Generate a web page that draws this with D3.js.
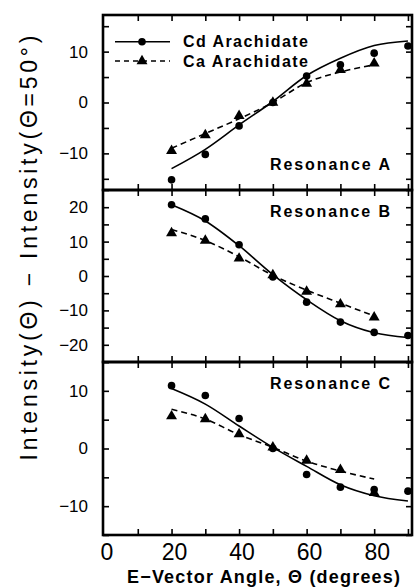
<!DOCTYPE html>
<html>
<head>
<meta charset="utf-8">
<script src="https://cdn.jsdelivr.net/npm/d3@7"></script>
<style>
  body { margin: 0; background: #fff; }
  svg { display: block; font-family: "Liberation Sans", Arial, Helvetica, sans-serif; }
</style>
</head>
<body>
<div id="chart"></div>
<script>
'use strict';

// angles (degrees) where points were measured
const cdAngles = [20, 30, 40, 50, 60, 70, 80, 90];
const caAngles = [20, 30, 40, 50, 60, 70, 80];

// Resonance A
const cdPointsA = [-15.2, -10.2, -4.6, 0.0, 5.2, 7.4, 9.7, 11.1];
const caPointsA = [-9.5, -6.4, -2.6, 0.0, 3.7, 6.4, 7.7];
const cdFitA = [-13.0, -9.2, -4.4, 0.2, 5.3, 8.7, 11.2, 12.1];
const caFitA = [-9.0, -6.1, -3.2, 0.0, 3.9, 6.0, 7.4];

// Resonance B
const cdPointsB = [20.7, 16.6, 9.1, -0.3, -7.6, -13.4, -16.4, -17.3];
const caPointsB = [12.5, 10.3, 5.1, 0.3, -4.5, -8.2, -12.0];
const cdFitB = [20.7, 16.0, 8.8, 0.4, -6.9, -13.0, -16.5, -17.9];
const caFitB = [13.5, 10.3, 5.6, 0.2, -4.1, -7.9, -11.6];

// Resonance C
const cdPointsC = [10.9, 9.2, 5.2, 0.0, -4.5, -6.7, -7.1, -7.4];
const caPointsC = [5.6, 5.1, 2.5, 0.2, -2.1, -3.7, -7.7];
const cdFitC = [10.4, 7.7, 3.9, 0.2, -3.1, -6.3, -8.2, -9.1];
const caFitC = [6.8, 5.1, 2.4, 0.2, -2.2, -3.9, -5.3];

const panelNames = ["Resonance A", "Resonance B", "Resonance C"];
const panelDomains = [[-17.2, 17.2], [-25, 25], [-15, 15]];
const xTickLabels = [0, 20, 40, 60, 80];

const legendNames = ["Cd Arachidate", "Ca Arachidate"];
const yTitle = "Intensity(\u0398) \u2212 Intensity(\u0398=50\u00b0)";
const xTitle = "E\u2212Vector Angle, \u0398 (degrees)";

const width = 415, height = 588;
const frame = {left: 103, right: 412};
const panelEdges = [15, 190, 362, 535];

const svg = d3.select("#chart").append("svg")
  .attr("width", width)
  .attr("height", height);

const x = d3.scaleLinear().domain([0, 91.2]).range([frame.left + 1, frame.right]);

const panels = [
  {name: panelNames[0], domain: panelDomains[0], cd: cdPointsA, ca: caPointsA, cdFit: cdFitA, caFit: caFitA},
  {name: panelNames[1], domain: panelDomains[1], cd: cdPointsB, ca: caPointsB, cdFit: cdFitB, caFit: caFitB},
  {name: panelNames[2], domain: panelDomains[2], cd: cdPointsC, ca: caPointsC, cdFit: cdFitC, caFit: caFitC}
];

const triangle = d3.symbol().type(d3.symbolTriangle).size(52);

panels.forEach(function(p, i){
  let top = panelEdges[i], bottom = panelEdges[i + 1];
  let y = d3.scaleLinear().domain(p.domain).range([bottom, top]);
  let g = svg.append("g").attr("class", "panel");

  //minor ticks every 5, labels every 10
  let yTicks = d3.range(Math.ceil(p.domain[0] / 5) * 5, p.domain[1] + 0.01, 5);
  let yFmt = d => (d % 10 === 0 ? d3.format("d")(d) : "");

  let left = g.append("g")
    .attr("transform", `translate(${frame.left},0)`)
    .call(d3.axisLeft(y).tickValues(yTicks).tickFormat(yFmt).tickSizeInner(-6).tickSizeOuter(0).tickPadding(15));
  let right = g.append("g")
    .attr("transform", `translate(${frame.right},0)`)
    .call(d3.axisRight(y).tickValues(yTicks).tickFormat("").tickSizeInner(-6).tickSizeOuter(0));

  let xTicks = d3.range(10, 91, 10);
  let topAxis = g.append("g")
    .attr("transform", `translate(0,${top})`)
    .call(d3.axisTop(x).tickValues(xTicks).tickFormat("").tickSizeInner(-6).tickSizeOuter(0));
  let botAxis = g.append("g")
    .attr("transform", `translate(0,${bottom})`)
    .call(d3.axisBottom(x).tickValues(xTicks).tickFormat("").tickSizeInner(-6).tickSizeOuter(0));

  [left, right, topAxis, botAxis].forEach(a => {
    a.select(".domain").remove();
    a.selectAll(".tick line").attr("stroke", "#000").attr("stroke-width", 1.6);
  });
  left.selectAll(".tick text")
    .attr("font-size", 17)
    .attr("fill", "#000");

  g.append("rect")
    .attr("x", frame.left)
    .attr("y", top)
    .attr("width", frame.right - frame.left)
    .attr("height", bottom - top)
    .attr("fill", "none")
    .attr("stroke", "#000")
    .attr("stroke-width", 2.6);

  let cdLine = d3.line().x((d, k) => x(cdAngles[k])).y(d => y(d)).curve(d3.curveMonotoneX);
  let caLine = d3.line().x((d, k) => x(caAngles[k])).y(d => y(d)).curve(d3.curveMonotoneX);

  g.append("path")
    .datum(p.cdFit)
    .attr("d", cdLine)
    .attr("fill", "none")
    .attr("stroke", "#000")
    .attr("stroke-width", 1.6);

  g.append("path")
    .datum(p.caFit)
    .attr("d", caLine)
    .attr("fill", "none")
    .attr("stroke", "#000")
    .attr("stroke-width", 1.6)
    .attr("stroke-dasharray", "6,4");

  g.selectAll(".cd").data(p.cd).enter().append("circle")
    .attr("class", "cd")
    .attr("cx", (d, k) => x(cdAngles[k]))
    .attr("cy", d => y(d))
    .attr("r", 3.8)
    .attr("fill", "#000");

  g.selectAll(".ca").data(p.ca).enter().append("path")
    .attr("class", "ca")
    .attr("d", triangle)
    .attr("transform", (d, k) => `translate(${x(caAngles[k])},${y(d)})`)
    .attr("fill", "#000");

  //panel name
  let nameY = i === 0 ? top + 155 : top + 27;
  g.append("text")
    .attr("x", 270)
    .attr("y", nameY)
    .attr("font-size", 16)
    .attr("font-weight", "bold")
    .attr("textLength", 120)
    .attr("lengthAdjust", "spacing")
    .text(p.name);

  if(i === panels.length - 1){
    g.selectAll(".xlabel").data(xTickLabels).enter().append("text")
      .attr("class", "xlabel")
      .attr("x", d => x(d) + 3)
      .attr("y", bottom + 25)
      .attr("text-anchor", "middle")
      .attr("font-size", 23)
      .text(d => d);
  }
});

//legend
const legend = svg.append("g").attr("class", "legend");
[0, 1].forEach(function(k){
  let ly = k === 0 ? 41.7 : 61;
  legend.append("line")
    .attr("x1", 115).attr("x2", 170)
    .attr("y1", ly).attr("y2", ly)
    .attr("stroke", "#000")
    .attr("stroke-width", 1.6)
    .attr("stroke-dasharray", k === 0 ? null : "5,4");
  if(k === 0){
    legend.append("circle").attr("cx", 142).attr("cy", ly).attr("r", 3.8).attr("fill", "#000");
  } else {
    legend.append("path").attr("d", triangle).attr("transform", `translate(142,${ly})`).attr("fill", "#000");
  }
  legend.append("text")
    .attr("x", 183)
    .attr("y", ly + 5.5)
    .attr("font-size", 16)
    .attr("font-weight", "bold")
    .attr("textLength", 125)
    .attr("lengthAdjust", "spacing")
    .text(legendNames[k]);
});

//axis titles
svg.append("text")
  .attr("transform", "translate(37,248) rotate(-90)")
  .attr("text-anchor", "middle")
  .attr("font-size", 23)
  .attr("textLength", 425)
  .attr("lengthAdjust", "spacing")
  .text(yTitle);

svg.append("text")
  .attr("x", 127)
  .attr("y", 583)
  .attr("font-size", 18)
  .attr("font-weight", "bold")
  .attr("textLength", 273)
  .attr("lengthAdjust", "spacing")
  .text(xTitle);
</script>
</body>
</html>
